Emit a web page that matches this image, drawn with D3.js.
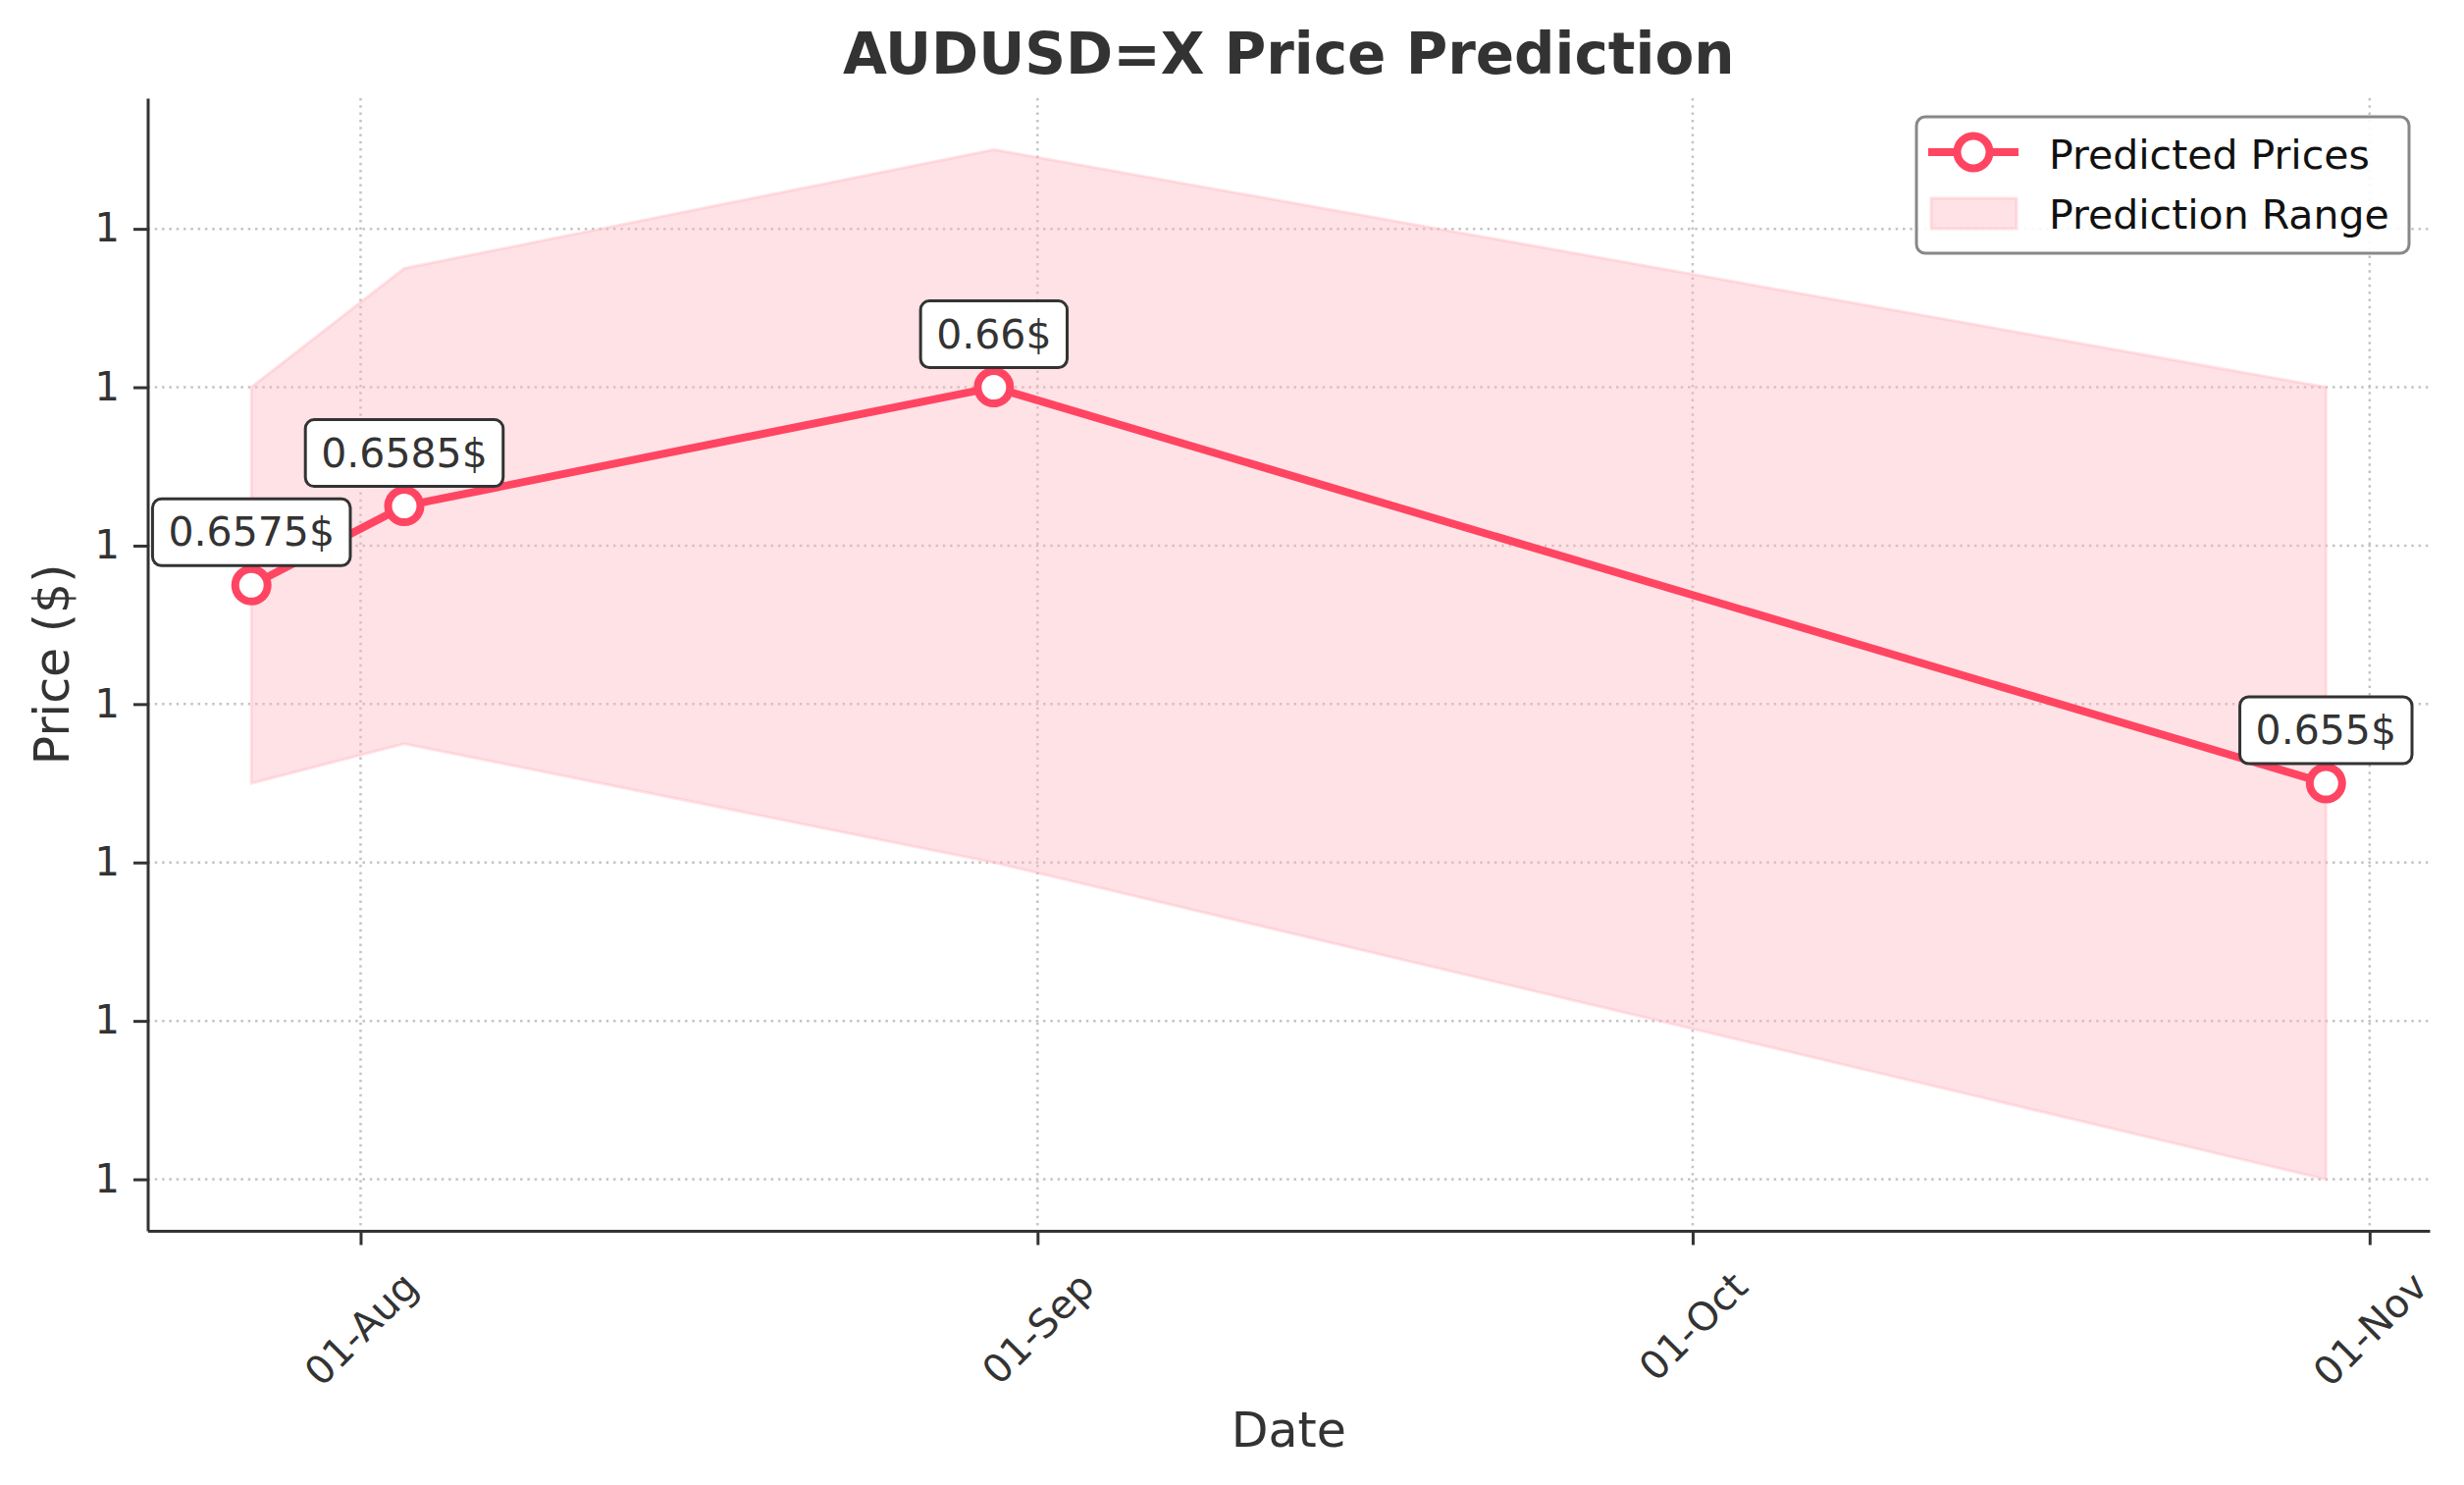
<!DOCTYPE html>
<html>
<head>
<meta charset="utf-8">
<script src="https://cdn.jsdelivr.net/npm/d3@7"></script>
<style>
    body { margin: 0; background: #fff; }
    svg { display: block; font-family: "DejaVu Sans", sans-serif; }
    .axis-label { fill: #333; font-size: 49px; }
</style>
</head>
<body>
<svg id="chart"></svg>
<script>
// Data
const dates = ["2024-07-27", "2024-08-03", "2024-08-30", "2024-10-30"];
const predicted = [0.6575, 0.6585, 0.66, 0.655];
const lows = [0.655, 0.6555, 0.654, 0.650];
const highs = [0.660, 0.6615, 0.663, 0.660];
const yTicks = [0.650, 0.652, 0.654, 0.656, 0.658, 0.660, 0.662];
const seriesLabels = ["Predicted Prices", "Prediction Range"];

const width = 2511;
const height = 1513;
const margin = { top: 100, right: 35, bottom: 259, left: 150.5 };
const innerWidth = width - margin.left - margin.right;
const innerHeight = height - margin.top - margin.bottom;

const lineColor = "#ff4562";
const bandColor = "#ffb6c1";
const textColor = "#333";
const fontFamily = "DejaVu Sans, sans-serif";

const parseDate = d3.timeParse("%Y-%m-%d");
const data = dates.map((d, i) => ({
    date: parseDate(d),
    price: predicted[i],
    low: lows[i],
    high: highs[i]
}));

const svg = d3.select("#chart")
    .attr("width", width)
    .attr("height", height);

// Scales with 5% padding like matplotlib autoscale
const [d0, d1] = d3.extent(data, d => d.date);
const dPad = (d1 - d0) * 0.05;
const xScale = d3.scaleTime()
    .domain([new Date(+d0 - dPad), new Date(+d1 + dPad)])
    .range([0, innerWidth]);

const yMin = d3.min(data, d => d.low);
const yMax = d3.max(data, d => d.high);
const yPad = (yMax - yMin) * 0.05;
const yScale = d3.scaleLinear()
    .domain([yMin - yPad, yMax + yPad])
    .range([innerHeight, 0]);

const innerChart = svg.append("g")
    .attr("transform", `translate(${margin.left},${margin.top})`);

const monthTicks = d3.timeMonth.range(xScale.domain()[0], xScale.domain()[1]);

// Grid
innerChart.append("g")
    .selectAll("line")
    .data(yTicks)
    .join("line")
    .attr("x1", 0)
    .attr("x2", innerWidth)
    .attr("y1", d => yScale(d))
    .attr("y2", d => yScale(d))
    .attr("stroke", "#c4c4c4")
    .attr("stroke-width", 2.5)
    .attr("stroke-dasharray", "2.5,4.8");

innerChart.append("g")
    .selectAll("line")
    .data(monthTicks)
    .join("line")
    .attr("x1", d => xScale(d))
    .attr("x2", d => xScale(d))
    .attr("y1", 0)
    .attr("y2", innerHeight)
    .attr("stroke", "#c4c4c4")
    .attr("stroke-width", 2.5)
    .attr("stroke-dasharray", "2.5,4.8");

// Prediction range band
const area = d3.area()
    .x(d => xScale(d.date))
    .y0(d => yScale(d.low))
    .y1(d => yScale(d.high));

innerChart.append("path")
    .datum(data)
    .attr("d", area)
    .attr("fill", bandColor)
    .attr("fill-opacity", 0.4)
    .attr("stroke", bandColor)
    .attr("stroke-opacity", 0.4)
    .attr("stroke-width", 3);

// Predicted line
const line = d3.line()
    .x(d => xScale(d.date))
    .y(d => yScale(d.price));

innerChart.append("path")
    .datum(data)
    .attr("d", line)
    .attr("fill", "none")
    .attr("stroke", lineColor)
    .attr("stroke-width", 8)
    .attr("stroke-linejoin", "round");

innerChart.selectAll(".marker")
    .data(data)
    .join("circle")
    .attr("class", "marker")
    .attr("cx", d => xScale(d.date))
    .attr("cy", d => yScale(d.price))
    .attr("r", 16.5)
    .attr("fill", "#fff")
    .attr("stroke", lineColor)
    .attr("stroke-width", 8);

// Value labels in rounded boxes
const labels = innerChart.selectAll(".value-label")
    .data(data)
    .join("g")
    .attr("class", "value-label")
    .attr("transform", d => `translate(${xScale(d.date)},${yScale(d.price)})`);

labels.append("text")
    .text(d => `${d.price}$`)
    .attr("text-anchor", "middle")
    .attr("y", -40)
    .attr("fill", textColor)
    .style("font-size", "41px");

labels.each(function () {
    const g = d3.select(this);
    const w = g.select("text").node().getComputedTextLength();
    g.insert("rect", "text")
        .attr("x", -w / 2 - 16)
        .attr("y", -88)
        .attr("width", w + 32)
        .attr("height", 68)
        .attr("rx", 9)
        .attr("fill", "#fff")
        .attr("stroke", textColor)
        .attr("stroke-width", 3);
});

// Axes
const bottomAxis = d3.axisBottom(xScale)
    .tickValues(monthTicks)
    .tickFormat(d3.timeFormat("%d-%b"))
    .tickSizeInner(14.5)
    .tickSizeOuter(0);

const xAxis = innerChart.append("g")
    .attr("transform", `translate(0,${innerHeight})`)
    .call(bottomAxis);

const leftAxis = d3.axisLeft(yScale)
    .tickValues(yTicks)
    .tickFormat(d3.format(".0f"))
    .tickSizeInner(14.5)
    .tickSizeOuter(0)
    .tickPadding(14);

const yAxis = innerChart.append("g")
    .call(leftAxis);

[xAxis, yAxis].forEach(axis => {
    axis.attr("font-family", fontFamily).attr("font-size", 40);
    axis.select(".domain").attr("stroke", textColor).attr("stroke-width", 3);
    axis.selectAll(".tick line").attr("stroke", textColor).attr("stroke-width", 3);
    axis.selectAll(".tick text").attr("fill", textColor);
});

// Rotate date labels so their box top sits under the tick
xAxis.selectAll(".tick text")
    .attr("text-anchor", "middle")
    .attr("dy", "0.35em")
    .attr("y", 0)
    .attr("transform", function () {
        const w = this.getComputedTextLength();
        const h = 40 * 0.95;
        const half = (w + h) * Math.SQRT1_2 / 2;
        return `translate(0,${36 + half}) rotate(-45)`;
    });

// Labels and title
svg.append("text")
    .text("AUDUSD=X Price Prediction")
    .attr("x", margin.left + innerWidth / 2)
    .attr("y", 75)
    .attr("text-anchor", "middle")
    .attr("fill", textColor)
    .style("font-size", "58px")
    .style("font-weight", "bold");

svg.append("text")
    .text("Date")
    .attr("class", "axis-label")
    .attr("x", margin.left + innerWidth / 2)
    .attr("y", 1474)
    .attr("text-anchor", "middle");

svg.append("text")
    .text("Price ($)")
    .attr("class", "axis-label")
    .attr("text-anchor", "middle")
    .attr("transform", `translate(70,${margin.top + innerHeight / 2}) rotate(-90)`);

// Legend
const legend = svg.append("g")
    .attr("transform", "translate(1953,119)");

legend.append("rect")
    .attr("width", 502)
    .attr("height", 139)
    .attr("rx", 9)
    .attr("fill", "#fff")
    .attr("fill-opacity", 0.9)
    .attr("stroke", "#888")
    .attr("stroke-width", 3);

legend.append("line")
    .attr("x1", 12)
    .attr("x2", 104)
    .attr("y1", 36)
    .attr("y2", 36)
    .attr("stroke", lineColor)
    .attr("stroke-width", 8);

legend.append("circle")
    .attr("cx", 58)
    .attr("cy", 36)
    .attr("r", 16.5)
    .attr("fill", "#fff")
    .attr("stroke", lineColor)
    .attr("stroke-width", 8);

legend.append("rect")
    .attr("x", 15)
    .attr("y", 83)
    .attr("width", 87)
    .attr("height", 31)
    .attr("fill", bandColor)
    .attr("fill-opacity", 0.4)
    .attr("stroke", bandColor)
    .attr("stroke-opacity", 0.4)
    .attr("stroke-width", 3);

legend.selectAll(".legend-text")
    .data(seriesLabels)
    .join("text")
    .attr("class", "legend-text")
    .text(d => d)
    .attr("x", 135)
    .attr("y", (d, i) => 53 + i * 61)
    .attr("fill", "#111")
    .style("font-size", "41px");
</script>
</body>
</html>
